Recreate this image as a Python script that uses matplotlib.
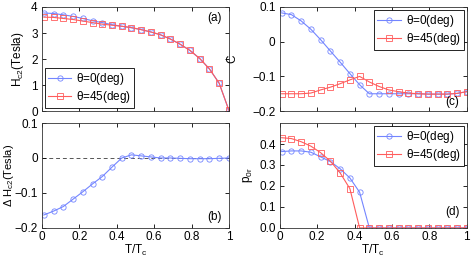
import matplotlib
matplotlib.use("Agg")
import matplotlib.pyplot as plt
import numpy as np

plt.rcParams['font.family'] = ['Liberation Sans', 'DejaVu Sans']
plt.rcParams['font.size'] = 8.5
plt.rcParams['mathtext.fontset'] = 'custom'
plt.rcParams['mathtext.rm'] = 'Liberation Sans'
plt.rcParams['mathtext.it'] = 'Liberation Sans'

# reduced temperature T/Tc
t = [0.01, 0.062, 0.114, 0.166, 0.218, 0.271, 0.323, 0.375, 0.427, 0.479,
     0.531, 0.583, 0.635, 0.687, 0.739, 0.792, 0.844, 0.896, 0.948, 1.0]

# (a) upper critical field
hc2_0 = [3.77, 3.75, 3.70, 3.64, 3.56, 3.47, 3.40, 3.32, 3.26, 3.20,
         3.13, 3.04, 2.93, 2.77, 2.57, 2.33, 2.02, 1.62, 1.07, 0.03]
hc2_45 = [3.61, 3.60, 3.56, 3.52, 3.46, 3.40, 3.34, 3.30, 3.26, 3.21,
          3.13, 3.04, 2.93, 2.77, 2.57, 2.33, 2.02, 1.62, 1.07, 0.03]

# (b) difference
dhc2 = [-0.163, -0.152, -0.139, -0.118, -0.097, -0.074, -0.053, -0.026, 0.0, 0.009,
        0.006, 0.003, 0.0, 0.0, -0.001, -0.002, -0.002, -0.002, -0.001, 0.0]

# (c) C
c_0 = [0.083, 0.078, 0.060, 0.036, 0.006, -0.027, -0.059, -0.092, -0.124, -0.150,
       -0.150, -0.150, -0.150, -0.150, -0.150, -0.151, -0.151, -0.151, -0.149, -0.144]
c_45 = [-0.150, -0.150, -0.150, -0.148, -0.139, -0.131, -0.121, -0.110, -0.100, -0.116,
        -0.129, -0.139, -0.144, -0.148, -0.150, -0.151, -0.151, -0.151, -0.149, -0.144]

# (d) p0r
p_0 = [0.364, 0.367, 0.367, 0.361, 0.339, 0.316, 0.282, 0.238, 0.170, 0.0,
       0, 0, 0, 0, 0, 0, 0, 0, 0, 0]
p_45 = [0.430, 0.426, 0.411, 0.390, 0.359, 0.318, 0.262, 0.187, 0.0, 0.0,
        0, 0, 0, 0, 0, 0, 0, 0, 0, 0]

blue = '#7385ff'
red = '#ff5c5c'
lab0 = r'$\theta$=0(deg)'
lab45 = r'$\theta$=45(deg)'

fig = plt.figure(figsize=(4.71, 2.59), dpi=100)
L, R = 0.089, 0.594
W = 0.397
axa = fig.add_axes([L, 0.571, W, 0.402])
axb = fig.add_axes([L, 0.120, W, 0.405])
axc = fig.add_axes([R, 0.571, W, 0.402])
axd = fig.add_axes([R, 0.120, W, 0.405])

def style(ax):
    ax.set_xlim(0, 1)
    ax.set_xticks([0, 0.2, 0.4, 0.6, 0.8, 1])
    ax.tick_params(direction='in', top=True, right=True, length=3, width=0.6, pad=3,
                   labelsize=8.5)
    ax.tick_params(axis='x', pad=2)
    for s in ax.spines.values():
        s.set_linewidth(0.6)
        s.set_color('#333333')

def add_legend(ax, loc):
    leg = ax.legend(loc=loc, fontsize=8.5, handlelength=2.0, borderpad=0.25,
                    labelspacing=0.15, handletextpad=0.4, fancybox=False, framealpha=1,
                    borderaxespad=0.25)
    leg.get_frame().set_edgecolor('black')
    leg.get_frame().set_linewidth(0.6)

kw = dict(lw=0.8, ms=3.8, mfc='none', mew=0.6)

axa.plot(t, hc2_0, '-o', color=blue, label=lab0, **kw)
axa.plot(t, hc2_45, '-s', color=red, label=lab45, **kw)
axa.set_ylim(0, 4)
axa.set_yticks([0, 1, 2, 3, 4])
axa.set_ylabel(r'H$_{c2}$(Tesla)', labelpad=4)
style(axa)
axa.set_xticklabels([])
axa.text(0.96, 0.89, '(a)', transform=axa.transAxes, ha='right', va='center')
add_legend(axa, 'lower left')

axb.plot(t, dhc2, '-o', color=blue, **kw)
axb.axhline(0, color='#555555', ls='--', lw=0.7, dashes=(4, 3), zorder=0)
axb.set_ylim(-0.2, 0.1)
axb.set_yticks([-0.2, -0.1, 0, 0.1])
axb.set_yticklabels(['\u22120.2', '\u22120.1', '0', '0.1'])
axb.set_ylabel(r'$\Delta$ H$_{c2}$(Tesla)', labelpad=-1, fontsize=8)
axb.set_xlabel(r'T/T$_{\rm c}$', labelpad=0)
style(axb)
axb.set_xticklabels(['0', '0.2', '0.4', '0.6', '0.8', '1'])
axb.text(0.96, 0.10, '(b)', transform=axb.transAxes, ha='right', va='center')

axc.plot(t, c_0, '-o', color=blue, label=lab0, **kw)
axc.plot(t, c_45, '-s', color=red, label=lab45, **kw)
axc.set_ylim(-0.2, 0.1)
axc.set_yticks([-0.2, -0.1, 0, 0.1])
axc.set_yticklabels(['\u22120.2', '\u22120.1', '0', '0.1'])
axc.set_ylabel('C', labelpad=10)
style(axc)
axc.set_xticklabels([])
axc.text(0.96, 0.09, '(c)', transform=axc.transAxes, ha='right', va='center')
add_legend(axc, 'upper right')

axd.plot(t, p_0, '-o', color=blue, label=lab0, **kw)
axd.plot(t, p_45, '-s', color=red, label=lab45, **kw)
axd.set_ylim(0, 0.5)
axd.set_yticks([0, 0.1, 0.2, 0.3, 0.4])
axd.set_ylabel(r'p$_{0r}$', labelpad=3)
axd.set_xlabel(r'T/T$_{\rm c}$', labelpad=0)
style(axd)
axd.set_xticklabels(['0', '0.2', '0.4', '0.6', '0.8', '1'])
axd.text(0.96, 0.15, '(d)', transform=axd.transAxes, ha='right', va='center')
add_legend(axd, 'upper right')

fig.savefig('out.png', dpi=100)
